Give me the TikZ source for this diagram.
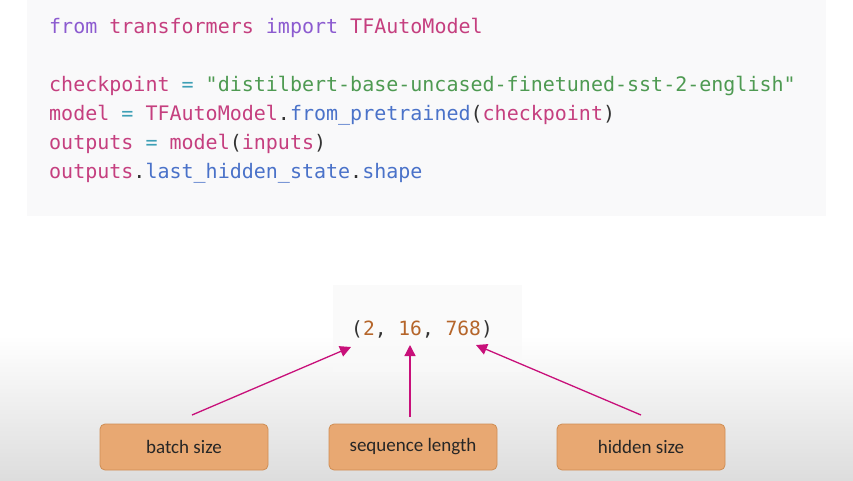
\documentclass[tikz,border=0pt]{standalone}
\usepackage{fontspec}
\setmonofont{DejaVu Sans Mono}
\newfontfamily\boxfont{Carlito}
\usetikzlibrary{arrows.meta}
\definecolor{kwc}{HTML}{8C5BD0}
\definecolor{pinkc}{HTML}{C53F7F}
\definecolor{teal2}{HTML}{3D9FB5}
\definecolor{strc}{HTML}{4E9A52}
\definecolor{bluec}{HTML}{4A72C9}
\definecolor{darkc}{HTML}{333333}
\definecolor{numc}{HTML}{B5652A}
\definecolor{arrc}{HTML}{C8107A}
\definecolor{boxfill}{HTML}{E8A872}
\definecolor{boxdraw}{HTML}{CF8E55}
\definecolor{codebg}{HTML}{F9F9FA}
\definecolor{tupbg}{HTML}{F9F9F9}
\newcommand{\kw}[1]{\textcolor{kwc}{#1}}
\newcommand{\pk}[1]{\textcolor{pinkc}{#1}}
\newcommand{\eqc}[1]{\textcolor{teal2}{#1}}
\newcommand{\st}[1]{\textcolor{strc}{#1}}
\newcommand{\bl}[1]{\textcolor{bluec}{#1}}
\newcommand{\dk}[1]{\textcolor{darkc}{#1}}
\newcommand{\nm}[1]{\textcolor{numc}{#1}}
\begin{document}
\begin{tikzpicture}[x=1pt,y=-1pt,
  codeline/.style={anchor=base west, inner sep=0pt, font=\ttfamily\fontsize{20}{22}\selectfont},
  label/.style={draw=boxdraw, fill=boxfill, rounded corners=5pt, line width=0.8pt,
     minimum width=168pt, minimum height=46pt, inner sep=0pt,
     font=\boxfont\fontsize{19}{21}\selectfont, text=black!85},
  arr/.style={draw=arrc, line width=1.3pt, -{Triangle[length=11pt,width=11pt]}}]
\useasboundingbox (0,0) rectangle (853,480);
\fill[white] (0,0) rectangle (853,480);
\shade[top color=white, bottom color={rgb,255:red,221;green,221;blue,221}] (0,335) rectangle (853,480);
% code panel
\fill[codebg] (27,0) rectangle (826,216);
\node[codeline] (l1) at (49,33) {\kw{from} \pk{transformers} \kw{import} \pk{TFAutoModel}};
\node[codeline] (l2) at (49,91) {\pk{checkpoint} \eqc{=} \st{"distilbert-base-uncased-finetuned-sst-2-english"}};
\node[codeline] (l3) at (49,120) {\pk{model} \eqc{=} \pk{TFAutoModel}\dk{.}\bl{from\_pretrained}\dk{(}\pk{checkpoint}\dk{)}};
\node[codeline] (l4) at (49,149) {\pk{outputs} \eqc{=} \pk{model}\dk{(}\pk{inputs}\dk{)}};
\node[codeline] (l5) at (49,178) {\pk{outputs}\dk{.}\bl{last\_hidden\_state}\dk{.}\bl{shape}};
% tuple
\fill[tupbg, opacity=0.7] (333,285) rectangle (522,372);
\node[codeline, font=\ttfamily\fontsize{19.6}{22}\selectfont] (tup) at (351,335) {\dk{(}\nm{2}\dk{,} \nm{16}\dk{,} \nm{768}\dk{)}};
% boxes
\node[label] (b1) at (184,447) {batch size};
\node[label] (b2) at (413,447) {sequence length};
\node[label] (b3) at (641,447) {hidden size};
\coordinate (s1) at (192,415);
\coordinate (s2) at (410,417);
\coordinate (s3) at (641,415);
\coordinate (t1) at (351,347);
\coordinate (t2) at (410,345);
\coordinate (t3) at (476,345);
\draw[arr] (s1) -- (t1);
\draw[arr] (s2) -- (t2);
\draw[arr] (s3) -- (t3);
\end{tikzpicture}
\end{document}
